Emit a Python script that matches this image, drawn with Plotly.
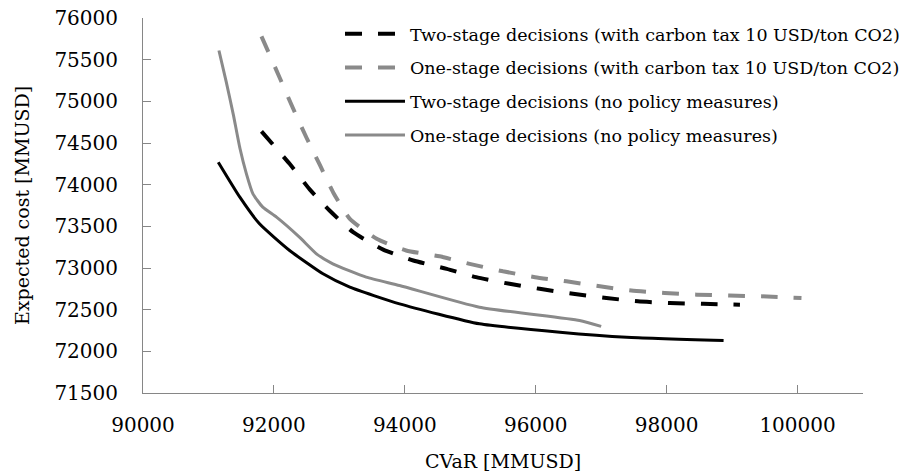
import plotly.graph_objects as go

# Two-stage decisions (with carbon tax)
two_tax_x = [91810, 92240, 92550, 92850, 93210, 93670, 94130, 94640, 95090, 95600,
             96060, 96570, 97080, 97560, 98050, 98560, 99120]
two_tax_y = [74640, 74250, 73940, 73690, 73430, 73220, 73090, 72990, 72890, 72810,
             72750, 72690, 72640, 72600, 72580, 72570, 72560]

# One-stage decisions (with carbon tax)
one_tax_x = [91810, 92090, 92290, 92500, 92700, 92910, 93160, 93570, 94020, 94530,
             94990, 95500, 95990, 96470, 96980, 97460, 97970, 98460, 98960, 99450, 100060]
one_tax_y = [75780, 75280, 74920, 74560, 74240, 73900, 73590, 73350, 73210, 73140,
             73050, 72960, 72890, 72840, 72780, 72730, 72700, 72680, 72670, 72660, 72640]

# Two-stage decisions (no policy)
two_np_x = [91150, 91480, 91780, 92240, 92750, 93160, 93920, 95140, 96370, 97390, 98870]
two_np_y = [74270, 73850, 73530, 73210, 72930, 72770, 72570, 72330, 72230, 72170, 72130]

# One-stage decisions (no policy)
one_np_x = [91160, 91270, 91380, 91480, 91580, 91680, 91830, 92040, 92390, 92650, 92900,
            93410, 93920, 95140, 96670, 97000]
one_np_y = [75610, 75240, 74840, 74440, 74130, 73890, 73730, 73610, 73370, 73170, 73050,
            72890, 72790, 72530, 72370, 72300]

names = [
    "Two-stage decisions (with carbon tax 10 USD/ton CO2)",
    "One-stage decisions (with carbon tax 10 USD/ton CO2)",
    "Two-stage decisions (no policy measures)",
    "One-stage decisions (no policy measures)",
]

BLACK = "#000000"
GRAY = "#8a8a8a"
AX = "#868686"
FONT = "DejaVu Serif"

fig = go.Figure()
series = [
    (two_tax_x, two_tax_y, BLACK, "17px,16px", 4),
    (one_tax_x, one_tax_y, GRAY, "17px,16px", 4),
    (two_np_x, two_np_y, BLACK, "solid", 3),
    (one_np_x, one_np_y, GRAY, "solid", 3),
]
for i, (xs, ys, c, d, w) in enumerate(series):
    fig.add_trace(go.Scatter(
        x=xs, y=ys, mode="lines", name=names[i], legendgroup=f"g{i}",
        line=dict(color=c, dash=d, width=w, shape="spline", smoothing=0.5),
    ))

fig.update_layout(
    width=920, height=474,
    margin=dict(l=135, r=65, t=9, b=89),
    paper_bgcolor="white", plot_bgcolor="white",
    font=dict(family=FONT, color="#000000", size=16),
    legend=dict(
        x=0.2736, y=1.003, xanchor="left", yanchor="top",
        bgcolor="rgba(0,0,0,0)", tracegroupgap=8, itemwidth=60,
        font=dict(family=FONT, size=17.5, color="#000000"),
    ),
    showlegend=True,
)
fig.update_xaxes(
    range=[90000, 101000], dtick=2000, tick0=90000, tickformat="d", automargin=False,
    showgrid=False, zeroline=False, showline=True, linecolor=AX, linewidth=1,
    ticks="inside", ticklen=8, tickcolor=AX, tickwidth=1, ticklabeloverflow="allow",
    tickfont=dict(family=FONT, size=20), ticklabelstandoff=14,
    title=dict(text="CVaR [MMUSD]", font=dict(family=FONT, size=19), standoff=18),
)
fig.update_yaxes(
    range=[71500, 76000], dtick=500, tick0=71500, tickformat="d", automargin=False,
    showgrid=False, zeroline=False, showline=True, linecolor=AX, linewidth=1,
    ticks="inside", ticklen=8, tickcolor=AX, tickwidth=1, ticklabeloverflow="allow",
    tickfont=dict(family=FONT, size=20), ticklabelstandoff=20,
    title=dict(text="Expected cost [MMUSD]", font=dict(family=FONT, size=19), standoff=19),
)

fig.write_html("out.html")
